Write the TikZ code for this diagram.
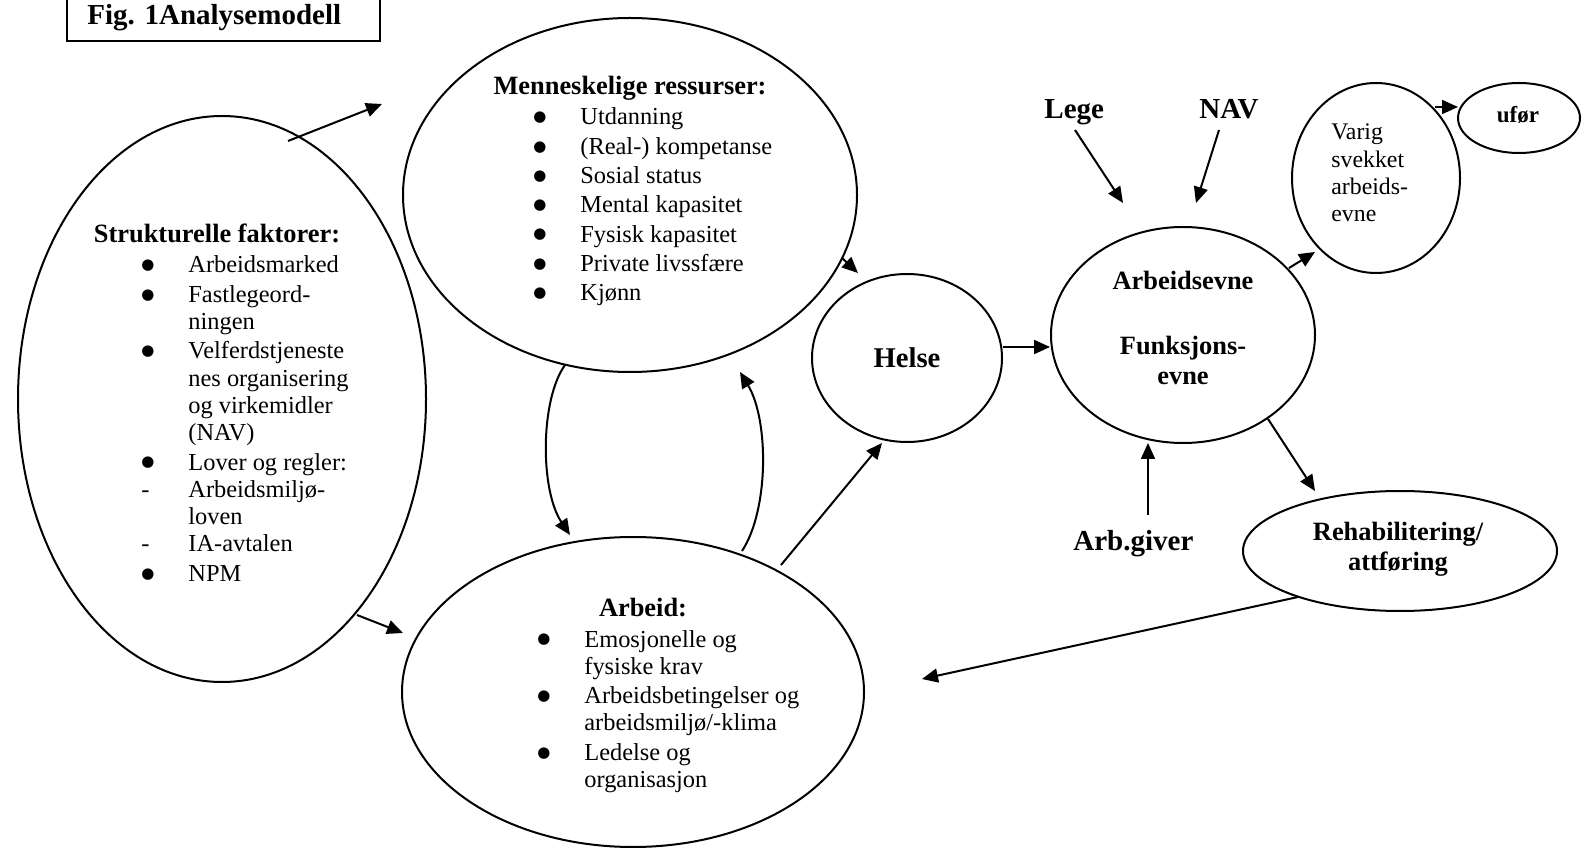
\documentclass[tikz,border=0pt]{standalone}
\usepackage{fontspec}
\setmainfont{Liberation Serif}
\newfontfamily\symfnt{DejaVu Sans}
\usetikzlibrary{shapes.geometric,arrows.meta}
\newcommand{\bodyfnt}{\fontsize{12.2}{13.65}\selectfont}
\newcommand{\headfnt}{\fontsize{13.2}{15}\selectfont\bfseries}
\newcommand{\bigfnt}{\fontsize{14.5}{16}\selectfont\bfseries}
\newcommand{\bigdot}{\raisebox{1.6pt}{\symfnt\fontsize{7.5}{8}\selectfont ●}}
\newcommand{\myBul}[1]{\makebox[23.5pt][l]{\bigdot}#1}
\newcommand{\myDsh}[1]{\makebox[23.5pt][l]{-}#1}
\newcommand{\myCont}[1]{\hspace*{23.5pt}#1}
\tikzset{
  ell/.style={draw, ellipse, line width=1pt, inner sep=0pt},
  txt/.style={inner sep=0pt, anchor=base},
  txtw/.style={inner sep=0pt, anchor=base west},
  arr/.style={line width=1pt, -{Triangle[length=8pt,width=7pt]}}
}
\begin{document}
\begin{tikzpicture}[x=0.5pt,y=-0.5pt]
\useasboundingbox (0,0) rectangle (1584,849);
% title box
\draw[line width=1pt] (67,-10) rectangle (380,41);
\node[txtw] (title) at (87,25) {\bigfnt Fig. 1Analysemodell};
% ellipses
\node[ell, minimum width=204pt, minimum height=283pt] (struct) at (222,399) {};
\node[ell, minimum width=227pt, minimum height=177pt] (mensk) at (630,195) {};
\node[ell, minimum width=231pt, minimum height=155pt] (arbeid) at (633,692) {};
\node[ell, minimum width=95pt, minimum height=84pt] (helse) at (907,358) {};
\node[ell, minimum width=132pt, minimum height=108pt] (aevne) at (1183,335) {};
\node[ell, minimum width=84pt, minimum height=95pt] (varig) at (1376,178) {};
\node[ell, minimum width=61pt, minimum height=35pt] (ufor) at (1519,118) {};
\node[ell, minimum width=157pt, minimum height=60pt] (rehab) at (1400,551) {};
% texts
\node[txt] (structhead) at (217,243) {\headfnt Strukturelle faktorer:};
\node[txtw] (structlist) at (141,273) {\parbox[t]{200pt}{\bodyfnt\raggedright
\myBul{Arbeidsmarked}\\[1pt]
\myBul{Fastlegeord-}\\
\myCont{ningen}\\[1pt]
\myBul{Velferdstjeneste}\\
\myCont{nes organisering}\\
\myCont{og virkemidler}\\
\myCont{(NAV)}\\[1pt]
\myBul{Lover og regler:}\\
\myDsh{Arbeidsmiljø-}\\
\myCont{loven}\\
\myDsh{IA-avtalen}\\[1pt]
\myBul{NPM}}};
\node[txt] (menskhead) at (630,95) {\headfnt Menneskelige ressurser:};
\node[txtw] (mensklist) at (533,125) {\parbox[t]{200pt}{\bodyfnt\raggedright
\myBul{Utdanning}\\[1pt]
\myBul{(Real-) kompetanse}\\[1pt]
\myBul{Sosial status}\\[1pt]
\myBul{Mental kapasitet}\\[1pt]
\myBul{Fysisk kapasitet}\\[1pt]
\myBul{Private livssfære}\\[1pt]
\myBul{Kjønn}}};
\node[txt] (arbeidhead) at (643,617) {\headfnt Arbeid:};
\node[txtw] (arbeidlist) at (537,647) {\parbox[t]{200pt}{\bodyfnt\raggedright
\myBul{Emosjonelle og}\\
\myCont{fysiske krav}\\[1pt]
\myBul{Arbeidsbetingelser og}\\
\myCont{arbeidsmiljø/-klima}\\[1pt]
\myBul{Ledelse og}\\
\myCont{organisasjon}}};
\node[txt] (helsetxt) at (907,368) {\fontsize{14.3}{16}\selectfont\bfseries Helse};
\node[txt] (aevnetxt) at (1183,290) {\parbox[t]{150pt}{\centering\headfnt
Arbeidsevne\\[17.5pt]
Funksjons-\\
evne}};
\node[txtw] (varigtxt) at (1331,140) {\parbox[t]{100pt}{\fontsize{11.9}{13.65}\selectfont\raggedright
Varig\\
svekket\\
arbeids-\\
evne}};
\node[txt] (ufortxt) at (1518,123) {\fontsize{11.5}{13}\selectfont\bfseries ufør};
\node[txt] (rehabtxt) at (1398,540) {\parbox[t]{150pt}{\centering\headfnt
Rehabilitering/\\
attføring}};
\node[txtw] (lege) at (1044,119) {\bigfnt Lege};
\node[txtw] (nav) at (1199,119) {\bigfnt NAV};
\node[txtw] (arbgiver) at (1073,551) {\bigfnt Arb.giver};
% connector endpoints
\coordinate (s1a) at (288,141); \coordinate (s1b) at (382,104);
\coordinate (s2a) at (357,615); \coordinate (s2b) at (403,633);
\coordinate (m1a) at (842,258); \coordinate (m1b) at (858,273);
\coordinate (m2a) at (565,365); \coordinate (m2b) at (570,535);
\coordinate (a1a) at (742,551); \coordinate (a1b) at (740,372);
\coordinate (a2a) at (781,565); \coordinate (a2b) at (882,443);
\coordinate (h1a) at (1003,347); \coordinate (h1b) at (1050,347);
\coordinate (l1a) at (1075,130); \coordinate (l1b) at (1123,203);
\coordinate (n1a) at (1219,130); \coordinate (n1b) at (1196,203);
\coordinate (g1a) at (1148,515); \coordinate (g1b) at (1148,443);
\coordinate (e1a) at (1289,268); \coordinate (e1b) at (1315,252);
\coordinate (v1a) at (1435,107); \coordinate (v1b) at (1458,107);
\coordinate (e2a) at (1268,419); \coordinate (e2b) at (1315,491);
\coordinate (r1a) at (1298,597); \coordinate (r1b) at (922,679);
% connectors
\draw[arr] (s1a) -- (s1b);
\draw[arr] (s2a) -- (s2b);
\draw[arr] (m1a) -- (m1b);
\draw[arr] (m2a) .. controls (540,400) and (540,490) .. (m2b);
\draw[arr] (a1a) .. controls (769,510) and (769,420) .. (a1b);
\draw[arr] (a2a) -- (a2b);
\draw[arr] (h1a) -- (h1b);
\draw[arr] (l1a) -- (l1b);
\draw[arr] (n1a) -- (n1b);
\draw[arr] (g1a) -- (g1b);
\draw[arr] (e1a) -- (e1b);
\draw[arr] (v1a) -- (v1b);
\draw[arr] (e2a) -- (e2b);
\draw[arr] (r1a) -- (r1b);
\end{tikzpicture}
\end{document}
